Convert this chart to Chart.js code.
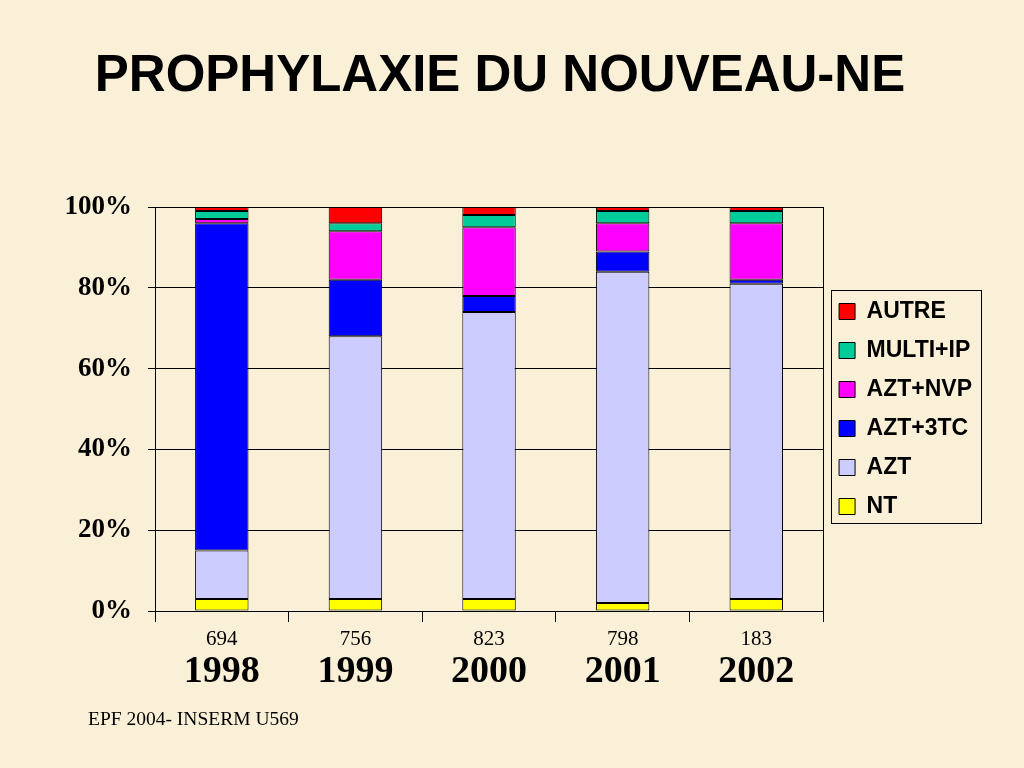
<!DOCTYPE html>
<html>
<head>
<meta charset="utf-8">
<script src="https://cdn.jsdelivr.net/npm/chart.js@4/dist/chart.umd.min.js"></script>
<style>
  html, body { margin: 0; padding: 0; }
  body { width: 1024px; height: 768px; overflow: hidden; position: relative;
         background: #faf0d8; }
  #chart-wrap { position: absolute; left: 0; top: 0; width: 1024px; height: 768px; }
  #title { position: absolute; left: 0; top: 49px; width: 1000px; text-align: center;
           font: bold 51px "Liberation Sans", Arial, sans-serif; line-height: 50px; color: #000; }
  #footer { position: absolute; left: 88px; top: 709px;
            font: 19.5px "Liberation Serif", "Times New Roman", serif; line-height: 19px; color: #000; }
</style>
</head>
<body>
<div id="title">PROPHYLAXIE DU NOUVEAU-NE</div>
<div id="chart-wrap"><canvas id="c" width="1024" height="768"></canvas></div>
<div id="footer">EPF 2004- INSERM U569</div>
<script>
// stacked 100% bars, values in percent
const years = ['1998', '1999', '2000', '2001', '2002'];
const counts = ['694', '756', '823', '798', '183'];

const nt      = [3, 3, 3, 2, 3];
const azt     = [12, 65, 71, 82, 78];
const azt3tc  = [81, 14, 4, 5, 1];
const aztNvp  = [1, 12, 17, 7, 14];
const multiIp = [2, 2, 3, 3, 3];
const autre   = [1, 4, 2, 1, 1];

const yTicks = [0, 20, 40, 60, 80, 100];

function ds(label, data, color) {
  return {
    label: label, data: data, backgroundColor: color,
    borderColor: '#000', borderWidth: 1, borderSkipped: false,
    barPercentage: 0.4, categoryPercentage: 1,
  };
}

// frame around the legend, as on the slide
const legendFrame = {
  id: 'legendFrame',
  afterDraw(chart) {
    const boxes = chart.legend && chart.legend.legendHitBoxes;
    if (!boxes || !boxes.length) return;
    let l = Infinity, t = Infinity, r = -Infinity, b = -Infinity;
    boxes.forEach(h => {
      l = Math.min(l, h.left); t = Math.min(t, h.top);
      r = Math.max(r, h.left + h.width); b = Math.max(b, h.top + h.height);
    });
    const ctx = chart.ctx;
    ctx.save();
    ctx.strokeStyle = '#000';
    ctx.lineWidth = 1;
    ctx.strokeRect(Math.round(l - 8) + 0.5, Math.round(t - 10) + 0.5, Math.round(r - l + 17), Math.round(b - t + 15));
    ctx.restore();
  }
};

new Chart(document.getElementById('c'), {
  type: 'bar',
  data: {
    labels: counts,
    datasets: [
      ds('NT', nt, '#ffff00'),
      ds('AZT', azt, '#ccccff'),
      ds('AZT+3TC', azt3tc, '#0000ff'),
      ds('AZT+NVP', aztNvp, '#ff00ff'),
      ds('MULTI+IP', multiIp, '#00cc99'),
      ds('AUTRE', autre, '#ff0000'),
    ],
  },
  options: {
    responsive: false,
    animation: false,
    layout: { padding: { left: 0, top: 207, right: 42, bottom: 72 } },
    plugins: {
      title: { display: false },
      tooltip: { enabled: false },
      legend: {
        position: 'right',
        align: 'center',
        fullSize: false,
        reverse: true,
        labels: {
          boxWidth: 16, boxHeight: 16, padding: 16, color: '#000',
          font: { family: '"Liberation Sans", Arial, sans-serif', size: 23, weight: 'bold' },
        },
      },
    },
    scales: {
      x: {
        stacked: true,
        offset: true,
        afterFit: s => { s.height = 35; },
        border: { display: true, color: '#000', width: 1 },
        grid: {
          offset: true, drawOnChartArea: true, drawTicks: true, tickLength: 11,
          // only the right edge of the plot frame is drawn across the chart area
          color: c => (c.type === 'scale' ? '#000' : 'rgba(0,0,0,0)'),
          tickColor: '#000', lineWidth: 1,
        },
        ticks: {
          color: '#000', padding: 5, maxRotation: 0,
          font: { family: '"Liberation Serif", "Times New Roman", serif', size: 21 },
        },
      },
      x2: {
        type: 'category',
        labels: years,
        position: 'bottom',
        offset: true,
        afterFit: s => { s.height = 50; },
        border: { display: false },
        grid: { display: false, drawTicks: false },
        ticks: {
          color: '#000', padding: 7, maxRotation: 0,
          font: { family: '"Liberation Serif", "Times New Roman", serif', size: 38, weight: 'bold', lineHeight: 1 },
        },
      },
      y: {
        stacked: true,
        min: 0, max: 100,
        afterFit: s => { s.width = 155; },
        afterBuildTicks: s => { s.ticks = yTicks.map(v => ({ value: v })); },
        border: { display: true, color: '#000', width: 1 },
        grid: { color: '#000', lineWidth: 1, drawTicks: true, tickLength: 7, tickColor: '#000' },
        ticks: {
          color: '#000', padding: 16,
          callback: v => v + '%',
          font: { family: '"Liberation Serif", "Times New Roman", serif', size: 27, weight: 'bold' },
        },
      },
    },
  },
  plugins: [legendFrame],
});
</script>
</body>
</html>
